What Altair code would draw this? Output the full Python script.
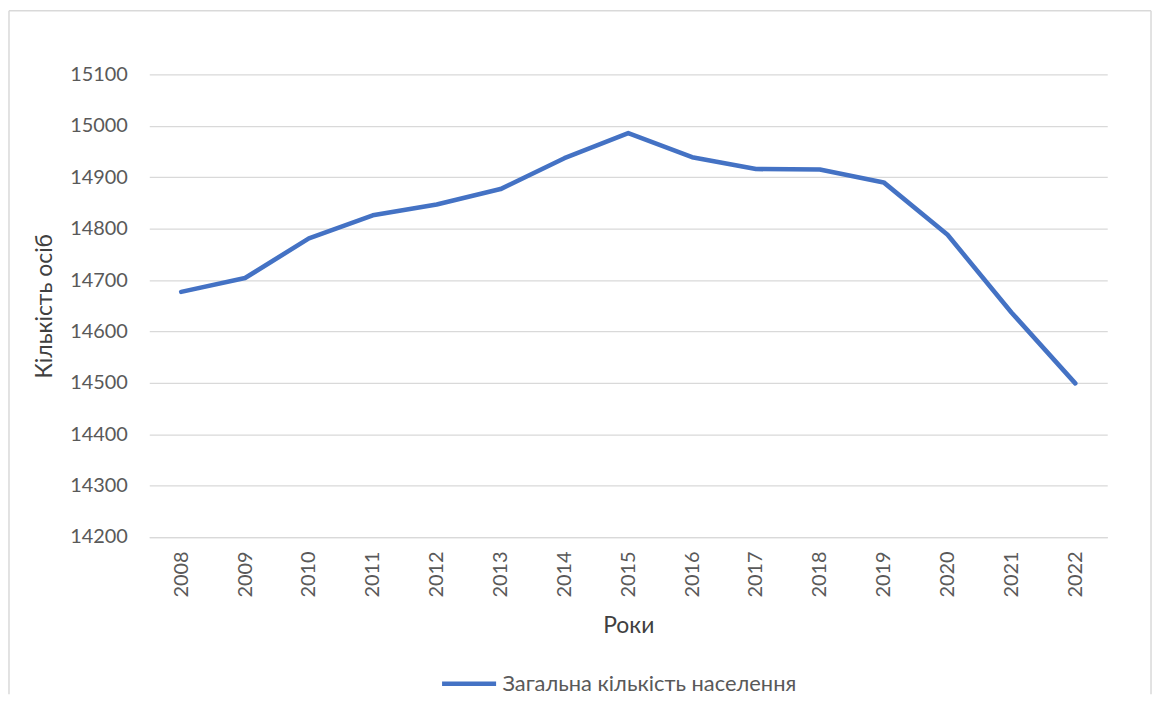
import altair as alt
import pandas as pd

years = ["2008", "2009", "2010", "2011", "2012", "2013", "2014", "2015",
         "2016", "2017", "2018", "2019", "2020", "2021", "2022"]
population = [14677, 14704, 14781, 14826, 14847, 14877, 14937, 14986,
              14939, 14916, 14915, 14890, 14788, 14637, 14499]
y_ticks = [14200, 14300, 14400, 14500, 14600, 14700, 14800, 14900, 15000, 15100]
series_name = "Загальна кількість населення"

df = pd.DataFrame({
    "Рік": years,
    "Населення": population,
    "Серія": [series_name] * len(years),
})

W, H = 963, 465
PAD_L, PAD_T, PAD_R, PAD_B = 142, 65, 45, 158
FONT = "Lato"
LABEL_COLOR = "#595959"
TITLE_COLOR = "#404040"
GRID = "#d9d9d9"

line = alt.Chart(df).mark_line(
    strokeWidth=4.6, strokeCap="round", strokeJoin="round"
).encode(
    x=alt.X(
        "Рік:O", sort=years,
        scale=alt.Scale(type="point", padding=0.5),
        axis=alt.Axis(
            title="Роки", labelAngle=-90, labelPadding=14, ticks=False,
            domainColor=GRID, domainWidth=1.3, grid=False,
            labelFont=FONT, labelFontSize=20, labelColor=LABEL_COLOR,
            titleFont=FONT, titleFontSize=23, titleFontWeight="normal",
            titleColor=TITLE_COLOR, titleY=89, titleBaseline="middle",
        ),
    ),
    y=alt.Y(
        "Населення:Q",
        scale=alt.Scale(domain=[14200, 15100], nice=False, zero=False),
        axis=alt.Axis(
            title="Кількість осіб", values=y_ticks, format="d", ticks=False,
            domain=False, grid=True, gridColor=GRID, gridWidth=1.3,
            labelPadding=22, labelFont=FONT, labelFontSize=20,
            labelColor=LABEL_COLOR,
            titleFont=FONT, titleFontSize=23, titleFontWeight="normal",
            titleColor=TITLE_COLOR, titleX=-105, titleY=H / 2,
            titleBaseline="middle", titleAlign="center", titleAngle=-90,
        ),
    ),
    color=alt.Color(
        "Серія:N",
        scale=alt.Scale(range=["#4472c4"]),
        legend=alt.Legend(
            title=None, orient="none", legendX=292, legendY=583,
            symbolType="stroke", symbolSize=2950, symbolStrokeWidth=4.6,
            labelFont=FONT, labelFontSize=22, labelOffset=4,
            labelColor=LABEL_COLOR, labelLimit=500,
        ),
    ),
)

frame = alt.Chart(alt.Data(values=[{"k": 1}]))
left = frame.mark_rule(color=GRID, strokeWidth=1.5).encode(
    x=alt.value(-PAD_L + 1), y=alt.value(-PAD_T + 1), y2=alt.value(H + PAD_B)
)
top = frame.mark_rule(color=GRID, strokeWidth=1.5).encode(
    x=alt.value(-PAD_L + 1), x2=alt.value(W + PAD_R - 1), y=alt.value(-PAD_T + 1)
)
right = frame.mark_rule(color=GRID, strokeWidth=1.5).encode(
    x=alt.value(W + PAD_R - 1), y=alt.value(-PAD_T + 1), y2=alt.value(H + PAD_B)
)

chart = alt.layer(left, top, right, line).properties(
    width=W, height=H,
    padding={"left": PAD_L, "top": PAD_T, "right": PAD_R, "bottom": PAD_B},
    autosize=alt.AutoSizeParams(type="none"),
    background="white",
).configure_view(stroke=None)

chart.save("out.html", embed_options={"renderer": "svg", "actions": False})
